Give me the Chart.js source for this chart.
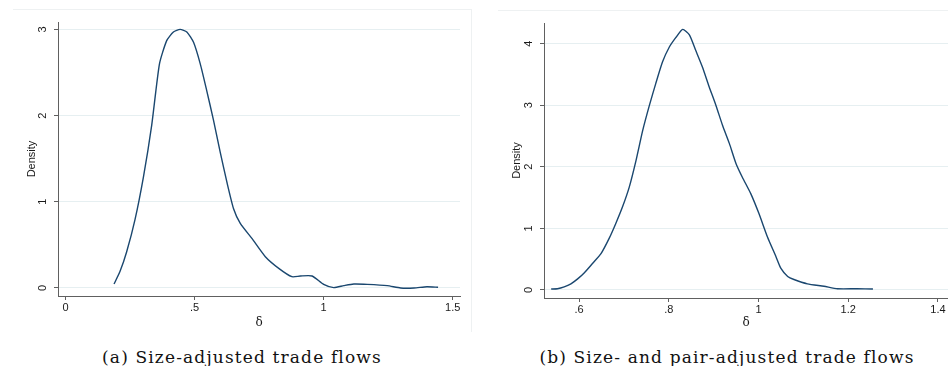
<!DOCTYPE html>
<html>
<head>
<meta charset="utf-8">
<script src="https://cdn.jsdelivr.net/npm/chart.js@4.4.1/dist/chart.umd.min.js"></script>
<style>
	body { margin: 0; background: #fff; width: 948px; height: 366px; position: relative; overflow: hidden; }
	canvas { position: absolute; top: 0; }
	#chartA { left: 0; }
	#chartB { left: 474px; }
	.frame { position: absolute; border-top: 1px solid #eef1f2; }
	.caption { position: absolute; top: 347px; transform: translateX(-50%); white-space: nowrap;
		font-family: "DejaVu Serif", "Liberation Serif", serif; font-size: 17px; letter-spacing: 1.15px; color: #111; }
</style>
</head>
<body>
<div class="frame" style="left:13px; top:9px; width:458px; height:322px; border-right:1px solid #eef1f2;"></div>
<div class="frame" style="left:498px; top:10px; width:450px;"></div>
<canvas id="chartA" width="474" height="334"></canvas>
<canvas id="chartB" width="474" height="334"></canvas>
<div class="caption" style="left:242px;">(a) Size-adjusted trade flows</div>
<div class="caption" style="left:727px;">(b) Size- and pair-adjusted trade flows</div>
<script>
// Panel (a): size-adjusted trade flows
const deltaA = [0.188, 0.211, 0.237, 0.269, 0.302, 0.334, 0.364, 0.392, 0.418, 0.444,
	0.470, 0.496, 0.522, 0.547, 0.573, 0.599, 0.625, 0.651, 0.677, 0.722,
	0.774, 0.826, 0.877, 0.910, 0.955, 1.000, 1.039, 1.078, 1.117, 1.169,
	1.246, 1.298, 1.350, 1.400, 1.443];
const densityA = [0.046, 0.19, 0.42, 0.79, 1.29, 1.89, 2.60, 2.87, 2.97, 3.00,
	2.97, 2.85, 2.60, 2.29, 1.95, 1.58, 1.23, 0.92, 0.75, 0.575,
	0.363, 0.228, 0.131, 0.139, 0.139, 0.042, 0.004, 0.027, 0.046, 0.042,
	0.027, 0.0, 0.0, 0.015, 0.008];
const xTicksA = [0, 0.5, 1, 1.5];
const xTickLabelsA = ['0', '.5', '1', '1.5'];
const yTicksA = [0, 1, 2, 3];
const yTickLabelsA = ['0', '1', '2', '3'];

// Panel (b): size- and pair-adjusted trade flows
const deltaB = [0.538, 0.552, 0.567, 0.582, 0.597, 0.612, 0.630, 0.649, 0.668, 0.682,
	0.697, 0.712, 0.727, 0.742, 0.757, 0.771, 0.786, 0.801, 0.816, 0.831,
	0.846, 0.860, 0.875, 0.890, 0.905, 0.920, 0.935, 0.950, 0.964, 0.983,
	1.001, 1.020, 1.039, 1.050, 1.065, 1.079, 1.109, 1.146, 1.176, 1.220, 1.255];
const densityB = [0.016, 0.02, 0.05, 0.10, 0.18, 0.28, 0.43, 0.59, 0.85, 1.08,
	1.35, 1.67, 2.10, 2.59, 3.00, 3.35, 3.70, 3.94, 4.10, 4.23,
	4.14, 3.89, 3.62, 3.30, 3.00, 2.67, 2.38, 2.05, 1.83, 1.56,
	1.24, 0.86, 0.54, 0.35, 0.22, 0.17, 0.10, 0.06, 0.02, 0.02, 0.016];
const xTicksB = [0.6, 0.8, 1, 1.2, 1.4];
const xTickLabelsB = ['.6', '.8', '1', '1.2', '1.4'];
const yTicksB = [0, 1, 2, 3, 4];
const yTickLabelsB = ['0', '1', '2', '3', '4'];

const lineColor = '#1a476f';
const axisColor = '#606060';
const gridColor = '#e6eff1';
const textColor = '#1a1a1a';
const tickFont = { family: '"Liberation Sans", Arial, sans-serif', size: 11 };

// Stata draws y tick labels rotated; Chart.js can't rotate vertical ticks, so draw them here
function rotatedYTicks(values, labels) {
	return {
		id: 'rotatedYTicks',
		afterDraw(chart) {
			const s = chart.scales.y;
			const ctx = chart.ctx;
			ctx.save();
			ctx.fillStyle = textColor;
			ctx.font = `${tickFont.size}px ${tickFont.family}`;
			ctx.textAlign = 'center';
			ctx.textBaseline = 'middle';
			values.forEach((v, i) => {
				ctx.save();
				ctx.translate(s.right - 15, s.getPixelForValue(v));
				ctx.rotate(-Math.PI / 2);
				ctx.fillText(labels[i], 0, 0);
				ctx.restore();
			});
			ctx.restore();
		}
	};
}

function buildChart(id, p) {
	const points = p.xs.map((x, i) => ({ x: x, y: p.ys[i] }));
	return new Chart(document.getElementById(id), {
		type: 'scatter',
		data: {
			datasets: [{
				data: points,
				showLine: true,
				borderColor: lineColor,
				borderWidth: 1.4,
				pointRadius: 0,
				tension: 0.2,
				fill: false
			}]
		},
		plugins: [rotatedYTicks(p.yTicks, p.yLabels)],
		options: {
			responsive: false,
			animation: false,
			layout: { padding: p.padding },
			plugins: { legend: { display: false }, tooltip: { enabled: false } },
			scales: {
				x: {
					type: 'linear',
					min: p.xMin,
					max: p.xMax,
					afterBuildTicks: s => { s.ticks = p.xTicks.map(v => ({ value: v })); },
					afterFit: s => { s.height = p.xAxisHeight; },
					ticks: {
						color: textColor,
						font: tickFont,
						padding: 1,
						maxRotation: 0,
						callback: v => p.xLabels[p.xTicks.indexOf(v)]
					},
					grid: { drawOnChartArea: false, tickLength: 4, tickColor: axisColor },
					border: { color: axisColor, width: 1 },
					title: {
						display: true,
						text: 'δ',
						color: textColor,
						font: { family: '"DejaVu Serif", serif', size: 12 },
						padding: { top: 0, bottom: 4 }
					}
				},
				y: {
					type: 'linear',
					min: p.yMin,
					max: p.yMax,
					afterBuildTicks: s => { s.ticks = p.yTicks.map(v => ({ value: v })); },
					afterFit: s => { s.width = p.yAxisWidth; },
					ticks: { display: false },
					grid: { color: gridColor, tickLength: 4, tickColor: axisColor },
					border: { color: axisColor, width: 1 },
					title: {
						display: true,
						text: 'Density',
						color: textColor,
						font: tickFont,
						padding: { top: p.titlePad, bottom: 0 }
					}
				}
			}
		}
	});
}

buildChart('chartA', {
	xs: deltaA, ys: densityA,
	xTicks: xTicksA, xLabels: xTickLabelsA,
	yTicks: yTicksA, yLabels: yTickLabelsA,
	xMin: -0.029, xMax: 1.528, yMin: -0.093, yMax: 3.086,
	padding: { left: 0, top: 22, right: 14, bottom: 0 },
	yAxisWidth: 58, xAxisHeight: 38, titlePad: 25
});

buildChart('chartB', {
	xs: deltaB, ys: densityB,
	xTicks: xTicksB, xLabels: xTickLabelsB,
	yTicks: yTicksB, yLabels: yTickLabelsB,
	xMin: 0.522, xMax: 1.4223, yMin: -0.13, yMax: 4.334,
	padding: { left: 0, top: 23, right: 0, bottom: 0 },
	yAxisWidth: 70, xAxisHeight: 36, titlePad: 36
});
</script>
</body>
</html>
